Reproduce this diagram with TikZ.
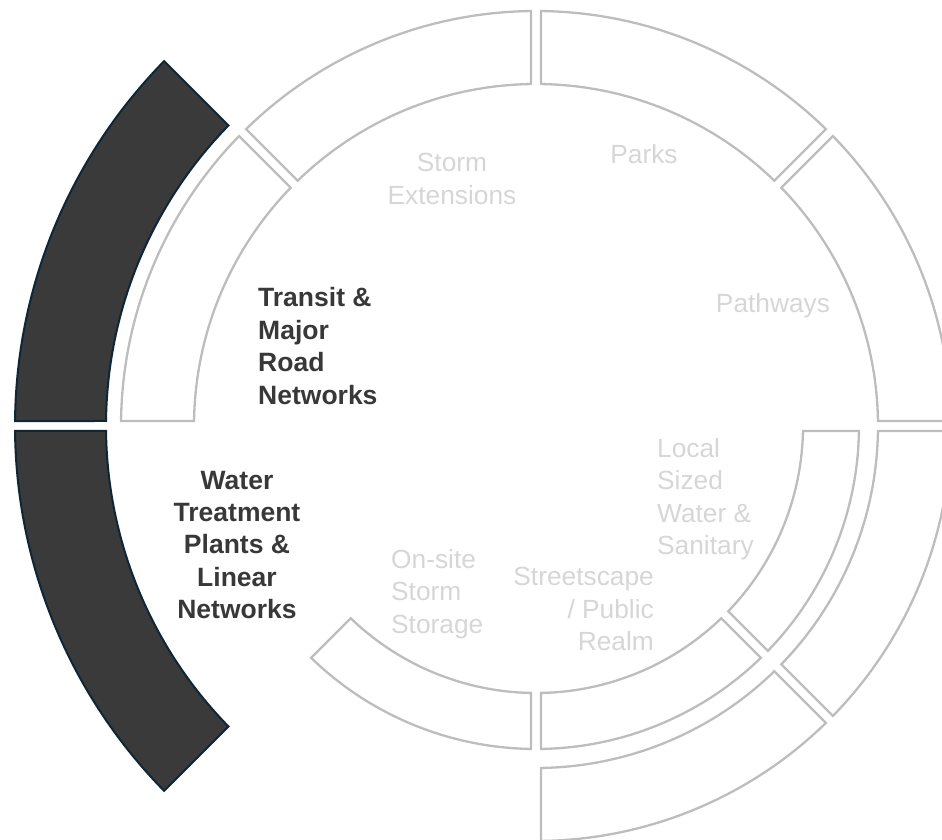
\documentclass[tikz,border=0pt]{standalone}
\usepackage{fontspec}
\setmainfont{Liberation Sans}
\definecolor{segGray}{HTML}{BDBDBD}
\definecolor{darkFill}{HTML}{3A3A3A}
\definecolor{darkEdge}{HTML}{0F2636}
\definecolor{lightTxt}{HTML}{D6D6D6}
\definecolor{darkTxt}{HTML}{383838}
\newcommand\ringseg[5]{% style, start angle, end angle, inner r, outer r
  \pgfmathsetmacro\segda{asin(5/#5)}%
  \pgfmathsetmacro\segdb{asin(5/#4)}%
  \draw[#1] ({#2+\segda}:#5pt) arc[start angle={#2+\segda}, end angle={#3-\segda}, radius=#5pt]
    -- ({#3-\segdb}:#4pt) arc[start angle={#3-\segdb}, end angle={#2+\segdb}, radius=#4pt] -- cycle;
}
\tikzset{
  lightseg/.style={draw=segGray, line width=2.3pt, line join=miter},
  darkseg/.style={draw=darkEdge, fill=darkFill, line width=2pt, line join=miter},
  lighttext/.style={text=lightTxt, inner sep=0pt, font=\fontsize{26.3}{32.4}\selectfont},
  darktext/.style={text=darkTxt, inner sep=0pt, font=\fontsize{26.5}{32.4}\selectfont\bfseries}
}
\begin{document}
\begin{tikzpicture}
\useasboundingbox (-536pt,-414pt) rectangle (406pt,426pt);
\clip (-536pt,-414pt) rectangle (406pt,426pt);
% outer dark ring
\ringseg{darkseg}{135}{180}{430}{521}
\ringseg{darkseg}{180}{225}{430}{521}
% middle ring
\ringseg{lightseg}{0}{45}{342}{415}
\ringseg{lightseg}{45}{90}{342}{415}
\ringseg{lightseg}{90}{135}{342}{415}
\ringseg{lightseg}{135}{180}{342}{415}
\ringseg{lightseg}{-90}{-45}{342}{415}
\ringseg{lightseg}{-45}{0}{342}{415}
% inner ring
\ringseg{lightseg}{-135}{-90}{267}{323}
\ringseg{lightseg}{-90}{-45}{267}{323}
\ringseg{lightseg}{-45}{0}{267}{323}
% labels
\node[lighttext, align=center] (storm) at (-84pt,247pt) {Storm\\Extensions};
\node[lighttext] (parks) at (108pt,272pt) {Parks};
\node[lighttext] (pathways) at (237pt,120pt) {Pathways};
\node[darktext, align=left, anchor=west] (transit) at (-278pt,80pt) {Transit \&\\Major\\Road\\Networks};
\node[darktext, align=center] (water) at (-299pt,-119pt) {Water\\Treatment\\Plants \&\\Linear\\Networks};
\node[lighttext, align=left, anchor=west] (local) at (121pt,-73pt) {Local\\Sized\\Water \&\\Sanitary};
\node[lighttext, align=right, anchor=east] (street) at (118pt,-183pt) {Streetscape\\/ Public\\Realm};
\node[lighttext, align=left, anchor=west] (onsite) at (-145pt,-168pt) {On-site\\Storm\\Storage};
\end{tikzpicture}
\end{document}
